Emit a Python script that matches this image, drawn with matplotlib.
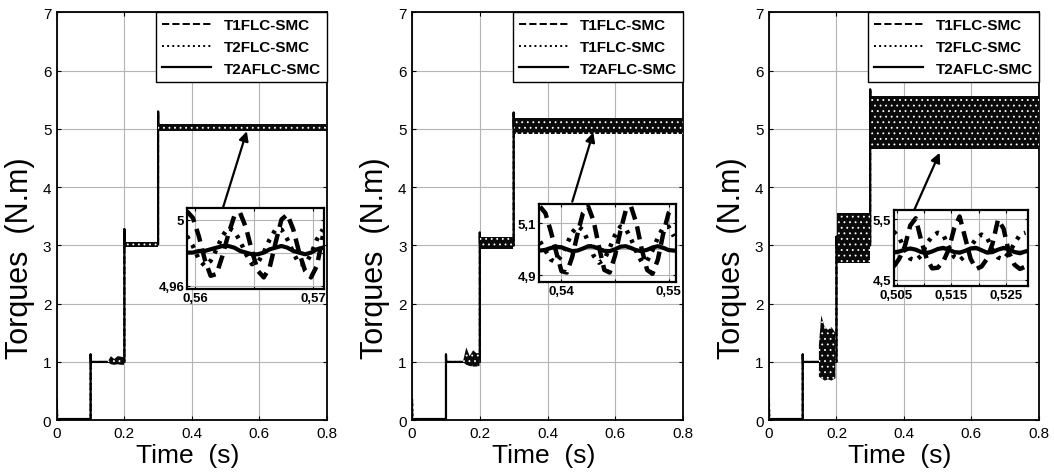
import numpy as np
import matplotlib
matplotlib.use('Agg')
import matplotlib.pyplot as plt

plt.rcParams['font.family'] = ['Liberation Sans', 'DejaVu Sans']
plt.rcParams['hatch.linewidth'] = 0.6

#%% Data
labels = [['T1FLC-SMC', 'T2FLC-SMC', 'T2AFLC-SMC'],
          ['T1FLC-SMC', 'T1FLC-SMC', 'T2AFLC-SMC'],
          ['T1FLC-SMC', 'T2FLC-SMC', 'T2AFLC-SMC']]

# step response key points (time, torque)
step_t = [0.0, 0.1, 0.1, 0.1005, 0.2, 0.2, 0.2005, 0.3, 0.3, 0.3005, 0.8]
p1_step = [0.02, 0.02, 1.13, 1.0, 1.0, 3.28, 3.02, 3.02, 5.3, 5.0, 5.0]
p2_step = [0.02, 0.02, 1.13, 1.0, 1.0, 3.22, 3.0, 3.0, 5.28, 5.0, 5.0]
p3_step = [0.02, 0.02, 1.13, 1.0, 1.0, 3.15, 3.0, 3.0, 5.68, 5.0, 5.0]
start_spike = 0.36

# chattering envelopes
low_t = [0.15, 0.16, 0.17, 0.18, 0.19, 0.199]
p1_low_hi = [1.0, 1.1, 1.05, 1.1, 1.09, 1.08]
p1_low_lo = [1.0, 0.96, 0.95, 0.96, 0.95, 0.95]
p2_low_hi = [1.0, 1.25, 1.1, 1.2, 1.15, 1.15]
p2_low_lo = [1.0, 0.95, 0.93, 0.92, 0.92, 0.93]
p3_low_t = [0.148, 0.155, 0.165, 0.175, 0.185, 0.197]
p3_low_hi = [1.3, 1.8, 1.6, 1.55, 1.6, 1.5]
p3_low_lo = [0.75, 0.72, 0.68, 0.7, 0.68, 0.72]
mid_t = [0.201, 0.299]
top_t = [0.301, 0.8]
p1_mid = [2.97, 3.06]
p1_top = [4.96, 5.08]
p2_mid = [2.93, 3.15]
p2_top = [4.92, 5.18]
p3_mid = [2.7, 3.55]
p3_top = [4.65, 5.57]

# zoom windows
in1_t = [0.5593, 0.5598, 0.5603, 0.5608, 0.5613, 0.5618, 0.5623, 0.5628,
         0.5633, 0.5638, 0.5643, 0.5648, 0.5653, 0.5658, 0.5663, 0.5668,
         0.5673, 0.5678, 0.5683, 0.5688, 0.5693, 0.5698, 0.5703, 0.5708]
in1_t1 = [5.005, 5.001, 4.990, 4.976, 4.966, 4.967, 4.978, 4.991, 5.002, 5.004,
          4.995, 4.981, 4.969, 4.965, 4.971, 4.986, 5.000, 5.003, 4.994, 4.980,
          4.969, 4.965, 4.972, 4.990]
in1_t2 = [4.990, 4.984, 4.976, 4.972, 4.975, 4.982, 4.990, 4.995, 4.993, 4.987,
          4.979, 4.973, 4.974, 4.980, 4.988, 4.994, 4.994, 4.988, 4.980, 4.973,
          4.973, 4.979, 4.988, 4.994]
in1_t2a = [4.980, 4.980, 4.981, 4.981, 4.982, 4.983, 4.984, 4.984, 4.983, 4.981,
           4.980, 4.979, 4.979, 4.980, 4.982, 4.983, 4.984, 4.983, 4.981, 4.980,
           4.979, 4.980, 4.982, 4.983]

in2_t = [0.5380, 0.5385, 0.5390, 0.5395, 0.5400, 0.5405, 0.5410, 0.5415, 0.5420,
         0.5425, 0.5430, 0.5435, 0.5440, 0.5445, 0.5450, 0.5455, 0.5460, 0.5465,
         0.5470, 0.5475, 0.5480, 0.5485, 0.5490, 0.5495, 0.5500, 0.5505]
in2_t1 = [5.165, 5.140, 5.070, 4.990, 4.915, 4.910, 4.970, 5.060, 5.140, 5.165,
          5.110, 5.010, 4.920, 4.910, 4.975, 5.070, 5.150, 5.165, 5.100, 5.000,
          4.920, 4.905, 4.960, 5.060, 5.140, 5.165]
in2_t2 = [5.030, 4.995, 4.960, 4.950, 4.975, 5.020, 5.065, 5.090, 5.075, 5.030,
          4.975, 4.948, 4.960, 5.005, 5.055, 5.088, 5.080, 5.040, 4.990, 4.950,
          4.955, 4.995, 5.045, 5.085, 5.088, 5.050]
in2_t2a = [4.995, 4.998, 5.005, 5.010, 5.008, 5.000, 4.993, 4.995, 5.003, 5.012,
           5.010, 5.002, 4.994, 4.993, 5.000, 5.010, 5.012, 5.005, 4.996, 4.993,
           4.998, 5.007, 5.012, 5.006, 4.997, 4.995]

in3_t = [0.5045, 0.5055, 0.5065, 0.5075, 0.5085, 0.5095, 0.5105, 0.5115, 0.5125,
         0.5135, 0.5145, 0.5155, 0.5165, 0.5175, 0.5185, 0.5195, 0.5205, 0.5215,
         0.5225, 0.5235, 0.5245, 0.5255, 0.5265, 0.5275, 0.5285]
in3_t1 = [4.72, 4.85, 5.05, 5.40, 5.52, 5.15, 4.85, 4.69, 4.70, 4.80, 5.00, 5.35,
          5.55, 5.20, 4.85, 4.68, 4.72, 4.85, 5.10, 5.50, 5.35, 4.95, 4.75, 4.68,
          4.72]
in3_t2 = [5.30, 5.20, 5.00, 4.85, 4.82, 4.90, 5.10, 5.22, 5.28, 5.25, 5.05, 4.88,
          4.82, 4.90, 5.05, 5.18, 5.25, 5.20, 5.00, 4.87, 4.84, 4.95, 5.10, 5.25,
          5.28]
in3_t2a = [4.95, 4.97, 5.00, 5.02, 5.00, 4.96, 4.94, 4.97, 5.01, 5.03, 5.00, 4.96,
           4.95, 4.98, 5.02, 5.03, 4.99, 4.95, 4.96, 5.00, 5.03, 5.01, 4.96, 4.94,
           4.97]

# inset axes limits and ticks
in1_xlim, in1_ylim = (0.5593, 0.5709), (4.958, 5.007)
in1_xticks, in1_xlabels = [0.56, 0.565, 0.57], ['0,56', '', '0,57']
in1_yticks, in1_ylabels = [4.96, 4.98, 5.0], ['4,96', '', '5']
in2_xlim, in2_ylim = (0.5379, 0.5507), (4.872, 5.175)
in2_xticks, in2_xlabels = [0.54, 0.545, 0.55], ['0,54', '', '0,55']
in2_yticks, in2_ylabels = [4.9, 5.0, 5.1], ['4,9', '', '5,1']
in3_xlim, in3_ylim = (0.5045, 0.5289), (4.395, 5.66)
in3_xticks = [0.505, 0.51, 0.515, 0.52, 0.525]
in3_xlabels = ['0,505', '', '0,515', '', '0,525']
in3_yticks, in3_ylabels = [4.5, 5.0, 5.5], ['4,5', '', '5,5']

# arrows (head, tail) in data coords of the main axes
arrows = [((0.563, 4.96), (0.492, 3.64)),
          ((0.535, 4.94), (0.473, 3.75)),
          ((0.506, 4.59), (0.430, 3.60))]

#%% Figure setup
fig = plt.figure(figsize=(10.54, 4.77), dpi=100)

ax_pos = [[0.054, 0.117, 0.256, 0.855],
          [0.391, 0.117, 0.257, 0.855],
          [0.7296, 0.117, 0.256, 0.855]]
in_pos = [[0.1774, 0.392, 0.130, 0.170],
          [0.5114, 0.406, 0.130, 0.164],
          [0.848, 0.398, 0.127, 0.160]]

steps = [p1_step, p2_step, p3_step]
lows = [(low_t, p1_low_lo, p1_low_hi),
        (low_t, p2_low_lo, p2_low_hi),
        (p3_low_t, p3_low_lo, p3_low_hi)]
mids = [p1_mid, p2_mid, p3_mid]
tops = [p1_top, p2_top, p3_top]
insets = [(in1_t, in1_t1, in1_t2, in1_t2a, in1_xlim, in1_ylim,
           in1_xticks, in1_xlabels, in1_yticks, in1_ylabels),
          (in2_t, in2_t1, in2_t2, in2_t2a, in2_xlim, in2_ylim,
           in2_xticks, in2_xlabels, in2_yticks, in2_ylabels),
          (in3_t, in3_t1, in3_t2, in3_t2a, in3_xlim, in3_ylim,
           in3_xticks, in3_xlabels, in3_yticks, in3_ylabels)]

band_style = dict(facecolor='#0a0a0a', edgecolor='white', hatch='...',
                  lw=0, zorder=3)

for i in range(3):
    ax = fig.add_axes(ax_pos[i])

    # dashed / dotted responses (with spike at t=0)
    t_sp = [0.0, 0.0, 0.001] + step_t[1:]
    y_sp = [0.0, start_spike, 0.02] + steps[i][1:]
    ax.plot(t_sp, y_sp, color='k', lw=1.4, ls='--', label=labels[i][0])
    ax.plot(t_sp, y_sp, color='k', lw=1.4, ls=':', label=labels[i][1])
    ax.plot(step_t, steps[i], color='k', lw=1.6, ls='-', label=labels[i][2])

    # chattering bands
    lt, lo, hi = lows[i]
    ax.fill_between(lt, lo, hi, **band_style)
    ax.fill_between(mid_t, [mids[i][0]] * 2, [mids[i][1]] * 2, **band_style)
    ax.fill_between(top_t, [tops[i][0]] * 2, [tops[i][1]] * 2, **band_style)

    ax.set_xlim(0, 0.8)
    ax.set_ylim(0, 7)
    ax.set_xticks([0, 0.2, 0.4, 0.6, 0.8])
    ax.set_xticklabels(['0', '0.2', '0.4', '0.6', '0.8'])
    ax.set_yticks(range(8))
    ax.grid(True, color='#b4b4b4', lw=0.8)
    ax.set_axisbelow(True)
    ax.tick_params(direction='in', top=True, right=True, labelsize=11,
                   length=3, pad=4)
    for sp in ax.spines.values():
        sp.set_linewidth(1.3)

    ax.set_xlabel('Time  (s)', fontsize=19)
    ax.xaxis.set_label_coords(0.485, -0.055)
    ax.set_ylabel('Torques  (N.m)', fontsize=22)
    ax.yaxis.set_label_coords(-0.08, 0.40)

    leg = ax.legend(loc='upper right', borderaxespad=0, fancybox=False,
                    edgecolor='k', framealpha=1, handlelength=3.2,
                    labelspacing=0.5, prop={'weight': 'bold', 'size': 11})
    leg.get_frame().set_linewidth(1.0)

    head, tail = arrows[i]
    ax.annotate('', xy=head, xytext=tail,
                arrowprops=dict(arrowstyle='-|>', color='k', lw=1.6,
                                mutation_scale=14, shrinkA=0, shrinkB=0),
                zorder=6)

    #%% inset
    (it, y1, y2, y3, xl, yl, xt, xtl, yt, ytl) = insets[i]
    ins = fig.add_axes(in_pos[i])
    ins.plot(it, y1, color='k', lw=3.2, ls=(0, (3, 1.6)))
    ins.plot(it, y2, color='k', lw=3.2, ls=(0, (0.8, 1.5)))
    ins.plot(it, y3, color='k', lw=3.0, ls='-')
    ins.set_xlim(xl)
    ins.set_ylim(yl)
    ins.set_xticks(xt)
    ins.set_xticklabels(xtl, fontweight='bold', fontsize=9.5)
    ins.set_yticks(yt)
    ins.set_yticklabels(ytl, fontweight='bold', fontsize=9.5)
    ins.grid(True, color='#b4b4b4', lw=0.8)
    ins.tick_params(direction='in', top=True, right=True, length=2.5, pad=2)
    for sp in ins.spines.values():
        sp.set_linewidth(1.6)

fig.savefig('out.png', dpi=100)
